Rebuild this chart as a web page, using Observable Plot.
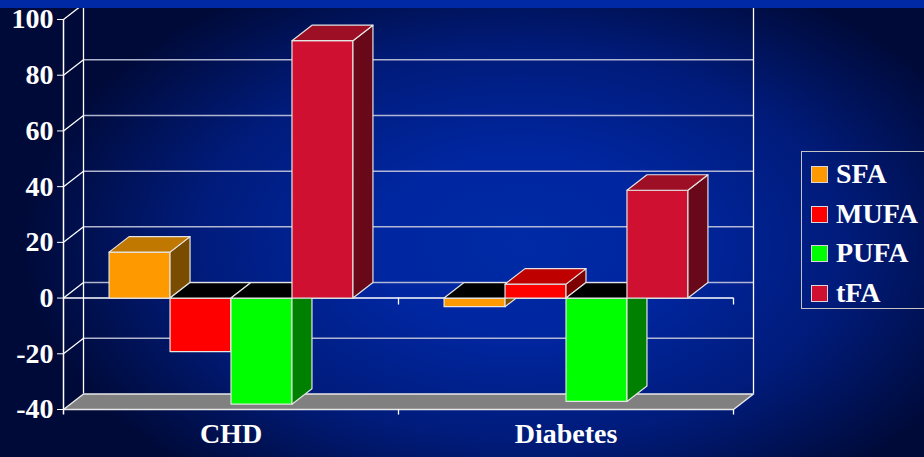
<!DOCTYPE html>
<html>
<head>
<meta charset="utf-8">
<script src="https://cdn.jsdelivr.net/npm/d3@7"></script>
<script src="https://cdn.jsdelivr.net/npm/@observablehq/plot@0.6"></script>
<style>
  html, body { margin: 0; padding: 0; overflow: hidden; }
  body { width: 924px; height: 457px; }
  #wrap {
    position: relative; width: 924px; height: 457px; overflow: hidden;
    background: radial-gradient(ellipse 500px 300px at 520px 245px, #002aa6 0%, #0026a0 30%, #001b7a 65%, #000a38 100%);
  }
  #band { position: absolute; left: 0; top: 0; width: 924px; height: 8px; background: #0029a6; }
  #chart svg text { font-family: "Liberation Serif", serif; font-weight: bold; font-size: 28px; fill: white; }
  #legend {
    position: absolute; left: 801px; top: 151px; width: 150px; height: 158px;
    border: 1px solid #c4c4c4; box-sizing: border-box;
    font-family: "Liberation Serif", serif; font-weight: bold; font-size: 28px; color: white;
  }
  .item { position: absolute; left: 9px; height: 30px; display: flex; align-items: center; }
  .sw { width: 15px; height: 15px; border: 1px solid #d8d8d8; margin-right: 8px; }
</style>
</head>
<body>
<div id="wrap">
  <div id="chart"></div>
  <div id="legend"></div>
  <div id="band"></div>
</div>
<script>
// ---- data ----
const categories = ["CHD", "Diabetes"];
const series = ["SFA", "MUFA", "PUFA", "tFA"];
const chdValues = [16.5, -19.2, -38.1, 92.4];
const diabetesValues = [-3.1, 5.0, -37.1, 38.7];
const yTicks = [-40, -20, 0, 20, 40, 60, 80, 100];

// ---- styles ----
const frontColors = ["#ff9900", "#ff0000", "#00ff00", "#d01030"];
const topColors   = ["#c07800", "#bf0000", "#00bf00", "#9c0f25"];
const sideColors  = ["#7a4c00", "#7f0000", "#008000", "#680818"];

const W = 924, H = 457;
const mL = 63, mR = 191, mT = 19, mB = 48;
const yDomain = [-40, 100];
const xDomain = [0, categories.length];
// depth of the 3D box in pixels, converted to data units
const depthPxX = 20, depthPxY = 15.5;
const dX = depthPxX * (xDomain[1] - xDomain[0]) / (W - mL - mR);
const dY = depthPxY * (yDomain[1] - yDomain[0]) / (H - mT - mB);
const barFrac = 0.182;
const barOffset = (1 - series.length * barFrac) / 2;

const valuesByCat = [chdValues, diabetesValues];

function poly(pts, id) { return pts.map(([x, y]) => ({id, x, y})); }

const marks = [];
const gridColor = "#c4c8dc";

// back wall gridlines
const backTicks = yTicks.filter(v => v > yDomain[0]);
marks.push(Plot.ruleY(backTicks, {y: d => d + dY, x1: dX, x2: xDomain[1] + dX, stroke: gridColor, strokeWidth: 1.5, strokeOpacity: 0.9}));
// left wall diagonals
marks.push(Plot.link(backTicks, {x1: 0, y1: d => d, x2: dX, y2: d => d + dY, stroke: "white", strokeWidth: 1.3}));
// back wall verticals
marks.push(Plot.ruleX([dX, xDomain[1] + dX], {y1: yDomain[0] + dY, y2: yDomain[1] + dY, stroke: "white", strokeWidth: 1.3}));
// floor
marks.push(Plot.line(poly([[0, yDomain[0]], [xDomain[1], yDomain[0]], [xDomain[1] + dX, yDomain[0] + dY], [dX, yDomain[0] + dY]], "floor"),
  {x: "x", y: "y", curve: "linear-closed", fill: "#808080", stroke: "#e8e8e8", strokeWidth: 1.5}));
// front axis line
marks.push(Plot.ruleX([0], {y1: yDomain[0] - 2, y2: yDomain[1], stroke: "white", strokeWidth: 1.5}));
// zero baseline and its ticks
marks.push(Plot.ruleY([0], {x1: 0, x2: xDomain[1], stroke: "white", strokeWidth: 1.5}));
marks.push(Plot.ruleX([1, 2], {y1: 0, y2: -2.5, stroke: "white", strokeWidth: 1.3}));
marks.push(Plot.ruleX([1, 2], {y1: yDomain[0], y2: yDomain[0] - 2, stroke: "white", strokeWidth: 1.3}));

// bars, drawn left to right
const edge = "#e4e4e4";
categories.forEach((cat, ci) => {
  valuesByCat[ci].forEach((v, si) => {
    const x0 = ci + barOffset + si * barFrac;
    const x1 = x0 + barFrac;
    const lo = Math.min(0, v), hi = Math.max(0, v);
    const id = cat + "-" + series[si];
    // front face
    marks.push(Plot.line(poly([[x0, lo], [x1, lo], [x1, hi], [x0, hi]], id + "f"),
      {x: "x", y: "y", curve: "linear-closed", fill: frontColors[si], stroke: edge, strokeWidth: 1.2}));
    // side face
    marks.push(Plot.line(poly([[x1, lo], [x1 + dX, lo + dY], [x1 + dX, hi + dY], [x1, hi]], id + "s"),
      {x: "x", y: "y", curve: "linear-closed", fill: sideColors[si], stroke: edge, strokeWidth: 1.2}));
    // top face (black opening for negative bars)
    marks.push(Plot.line(poly([[x0, hi], [x1, hi], [x1 + dX, hi + dY], [x0 + dX, hi + dY]], id + "t"),
      {x: "x", y: "y", curve: "linear-closed", fill: v < 0 ? "#000000" : topColors[si], stroke: edge, strokeWidth: 1.2}));
  });
});

// category labels
marks.push(Plot.text(categories, {x: (d, i) => i + 0.5, frameAnchor: "bottom", dy: 33, fill: "white"}));

const chart = Plot.plot({
  width: W, height: H,
  marginLeft: mL, marginRight: mR, marginTop: mT, marginBottom: mB,
  style: {background: "transparent", color: "white", overflow: "visible"},
  x: {domain: xDomain, axis: null},
  y: {domain: yDomain, ticks: yTicks, tickSize: 6, tickPadding: 4, label: null, tickFormat: d => String(d)},
  marks
});
document.getElementById("chart").appendChild(chart);

// legend
const legend = document.getElementById("legend");
const legendTops = [7, 47, 86, 126];
series.forEach((s, i) => {
  const it = document.createElement("div");
  it.className = "item";
  it.style.top = legendTops[i] + "px";
  const sw = document.createElement("span");
  sw.className = "sw";
  sw.style.background = frontColors[i];
  const tx = document.createElement("span");
  tx.textContent = s;
  it.appendChild(sw); it.appendChild(tx);
  legend.appendChild(it);
});
</script>
</body>
</html>
